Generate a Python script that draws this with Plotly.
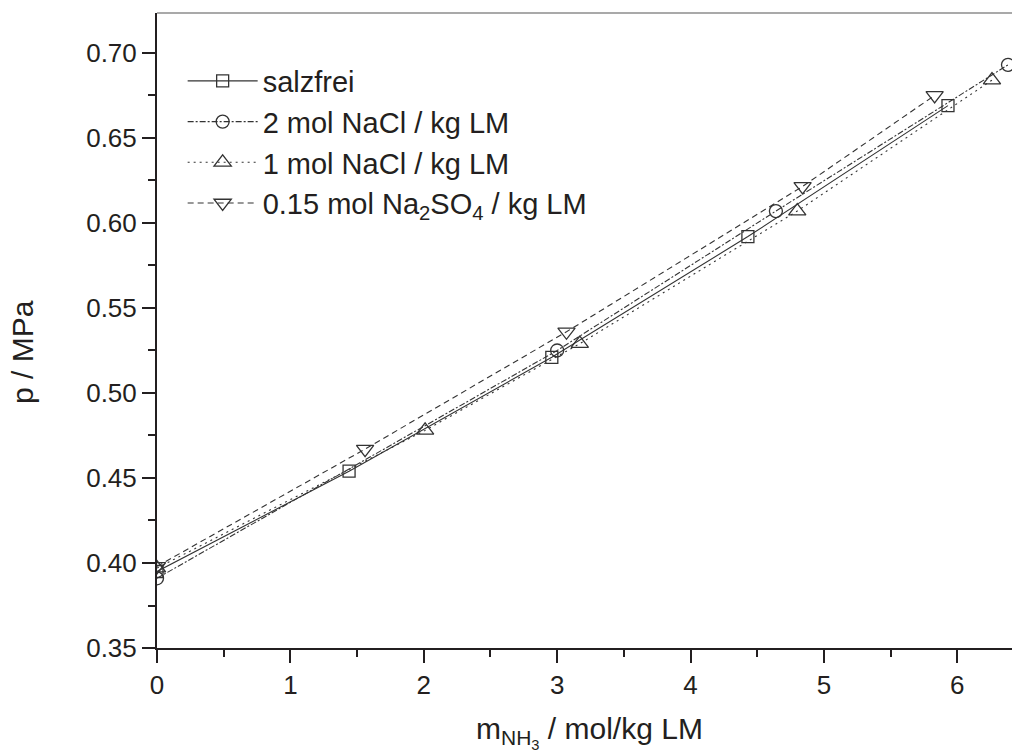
import plotly.graph_objects as go

# ---- data ----
x_salzfrei = [0.0, 1.44, 2.96, 4.43, 5.93]
p_salzfrei = [0.395, 0.454, 0.521, 0.592, 0.669]

x_nacl2 = [0.0, 3.00, 4.64, 6.38]
p_nacl2 = [0.391, 0.525, 0.607, 0.693]

x_nacl1 = [0.0, 2.01, 3.17, 4.80, 6.26]
p_nacl1 = [0.397, 0.478, 0.529, 0.607, 0.684]

x_na2so4 = [0.0, 1.56, 3.07, 4.84, 5.83]
p_na2so4 = [0.398, 0.467, 0.536, 0.6215, 0.675]

names = ["salzfrei", "2 mol NaCl / kg LM", "1 mol NaCl / kg LM",
         "0.15 mol Na<sub>2</sub>SO<sub>4</sub> / kg LM"]
symbols = ["square-open", "circle-open", "triangle-up-open", "triangle-down-open"]
dashes = ["solid", "6px,2px,2px,2px", "2px,4px", "6px,4px"]
sizes = [12, 13, 15, 15]

xs = [x_salzfrei, x_nacl2, x_nacl1, x_na2so4]
ps = [p_salzfrei, p_nacl2, p_nacl1, p_na2so4]

FONT = "Liberation Sans, Arial, sans-serif"
INK = "#231f20"

fig = go.Figure()
for x, p, n, s, d, sz in zip(xs, ps, names, symbols, dashes, sizes):
    fig.add_trace(go.Scatter(
        x=x, y=p, name=n, mode="lines+markers",
        line=dict(color="#333333", width=1.1, dash=d),
        marker=dict(symbol=s, size=sz, color="#333333", line=dict(width=1.3, color="#333333")),
        cliponaxis=True,
    ))

fig.update_layout(
    width=1012, height=755,
    margin=dict(l=157, r=0, t=13, b=107, autoexpand=False),
    paper_bgcolor="white", plot_bgcolor="white",
    font=dict(family=FONT, size=25, color=INK),
    showlegend=True,
    legend=dict(x=0.03, y=0.933, xanchor="left", yanchor="top",
                bgcolor="rgba(0,0,0,0)", font=dict(size=29, color=INK),
                itemwidth=70, tracegroupgap=0),
    shapes=[dict(type="line", xref="paper", yref="paper", x0=0, x1=1, y0=1, y1=1,
                 line=dict(color="#555555", width=1.2))],
    annotations=[
        dict(text="p / MPa", xref="paper", yref="paper", x=-0.158, y=0.466,
             xanchor="center", yanchor="middle", textangle=-90, showarrow=False,
             font=dict(size=30, color=INK)),
        dict(text="m<sub>NH<sub>3</sub></sub> / mol/kg LM", xref="paper", yref="paper",
             x=0.506, y=-0.098, xanchor="center", yanchor="top", showarrow=False,
             font=dict(size=30, color=INK)),
    ],
)

fig.update_xaxes(
    range=[0, 6.41], dtick=1, tick0=0, showgrid=False, zeroline=False,
    showline=True, linecolor=INK, linewidth=2,
    ticks="outside", ticklen=13, tickwidth=2, tickcolor=INK,
    minor=dict(dtick=0.5, ticks="outside", ticklen=7, tickwidth=2, tickcolor=INK, showgrid=False),
    tickfont=dict(size=26, color=INK),
    automargin=False,
)
fig.update_yaxes(
    range=[0.35, 0.7235], dtick=0.05, tick0=0.35, tickformat=".2f",
    showgrid=False, zeroline=False,
    showline=True, linecolor=INK, linewidth=2,
    ticks="outside", ticklen=13, tickwidth=2, tickcolor=INK,
    minor=dict(dtick=0.025, ticks="outside", ticklen=7, tickwidth=2, tickcolor=INK, showgrid=False),
    tickfont=dict(size=26, color=INK),
    automargin=False,
)

fig.write_html("out.html")
